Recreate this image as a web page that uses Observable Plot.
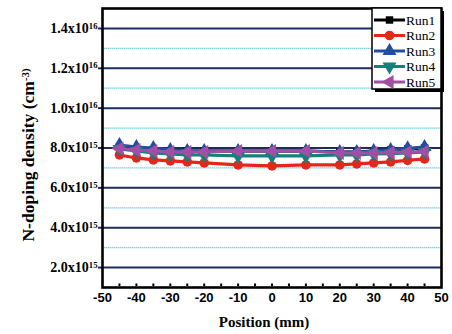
<!DOCTYPE html>
<html><head><meta charset="utf-8">
<script src="https://cdn.jsdelivr.net/npm/d3@7"></script>
<script src="https://cdn.jsdelivr.net/npm/@observablehq/plot@0.6"></script>
<style>body{margin:0;background:#fff;} #chart{position:relative;width:452px;height:334px;}</style>
</head><body><div id="chart"></div>
<script>
const positions = [-45,-40,-35,-30,-25,-20,-10,0,10,20,25,30,35,40,45];
const run1 = [8.05,7.95,7.9,7.85,7.85,7.85,7.85,7.85,7.85,7.8,7.8,7.85,7.9,7.95,8.0].map(v=>v*1e15);
const run2 = [7.65,7.5,7.4,7.35,7.3,7.25,7.15,7.1,7.15,7.15,7.2,7.25,7.3,7.38,7.45].map(v=>v*1e15);
const run3 = [8.15,8.05,8.0,7.9,7.85,7.85,7.85,7.85,7.85,7.8,7.8,7.85,7.9,7.98,8.05].map(v=>v*1e15);
const run4 = [7.95,7.85,7.75,7.7,7.65,7.65,7.6,7.6,7.6,7.65,7.65,7.7,7.72,7.75,7.8].map(v=>v*1e15);
const run5 = [7.98,7.9,7.85,7.8,7.8,7.8,7.85,7.85,7.85,7.75,7.75,7.75,7.78,7.8,7.82].map(v=>v*1e15);
const seriesNames = ["Run1","Run2","Run3","Run4","Run5"];
const seriesValues = [run1, run2, run3, run4, run5];
const seriesColors = ["#000000","#e5261c","#1f4ea3","#13807c","#a04fa4"];
const xTicks = [-50,-40,-30,-20,-10,0,10,20,30,40,50];
const xMinorTicks = [-45,-40,-35,-30,-25,-20,-15,-10,-5,0,5,10,15,20,25,30,35,40,45];
const yTicks = [2e15,4e15,6e15,8e15,1e16,1.2e16,1.4e16];
const yTickLabels = ["2.0x10|15","4.0x10|15","6.0x10|15","8.0x10|15","1.0x10|16","1.2x10|16","1.4x10|16"];
const yMinorGrid = [3e15,5e15,7e15,9e15,1.1e16,1.3e16];
const xTitle = "Position (mm)";
const yTitle = "N-doping density (cm|-3)";

const s3 = Math.sqrt(3);
function tri(dir){
  return {draw(ctx, size){
    const h = Math.sqrt(size/(3*s3));
    if(dir==="up"){ctx.moveTo(0,-2*h);ctx.lineTo(-s3*h,h);ctx.lineTo(s3*h,h);}
    else if(dir==="down"){ctx.moveTo(0,2*h);ctx.lineTo(-s3*h,-h);ctx.lineTo(s3*h,-h);}
    else {ctx.moveTo(-2*h,0);ctx.lineTo(h,-s3*h);ctx.lineTo(h,s3*h);}
    ctx.closePath();
  }};
}
const seriesSymbols = [d3.symbolSquare, d3.symbolCircle, tri("up"), tri("down"), tri("left")];
const seriesR = [4.2,4.8,5.2,5.2,5.2];

const rows = [];
seriesNames.forEach((n,i)=>positions.forEach((p,j)=>rows.push({run:n, x:p, y:seriesValues[i][j]})));

const marks = [
  Plot.ruleY(yMinorGrid, {stroke:"#7fcfdf", strokeWidth:1.3, strokeDasharray:"1.5,0.5"}),
  Plot.ruleY(yTicks, {stroke:"#1c2c5e", strokeWidth:2}),
  Plot.axisY({ticks:yTicks, tickSize:4, tickPadding:1, stroke:"#1c2c5e", strokeWidth:2,
    tickFormat:(d,i)=>yTickLabels[i], label:null, fontSize:14, fontWeight:"bold", fontFamily:"Liberation Serif"}),
  Plot.axisX({ticks:xMinorTicks, tickSize:2.5, dy:-3.5, tickFormat:()=>"", label:null, strokeWidth:2}),
  Plot.axisX({ticks:xTicks, tickSize:0, tickPadding:5, tickFormat:d=>String(d), label:null,
    fontSize:13, fontWeight:"bold", fontFamily:"Liberation Sans"}),
];
seriesNames.forEach((n,i)=>{
  const data = rows.filter(r=>r.run===n);
  marks.push(Plot.line(data,{x:"x",y:"y",stroke:seriesColors[i],strokeWidth:3.2}));
  marks.push(Plot.dot(data,{x:"x",y:"y",fill:seriesColors[i],stroke:"none",symbol:seriesSymbols[i],r:seriesR[i]}));
});
marks.push(Plot.frame({stroke:"#000",strokeWidth:2.6}));

const chart = Plot.plot({
  width:452, height:334,
  marginLeft:102, marginRight:11, marginTop:8, marginBottom:47,
  x:{domain:[-50,50]},
  y:{domain:[1e15,1.5e16]},
  style:{fontFamily:"Liberation Serif", background:"#fff", overflow:"visible"},
  marks
});
document.getElementById("chart").appendChild(chart);
const svg = d3.select(chart);

function supText(sel){
  sel.each(function(){
    const t = d3.select(this);
    const s = t.text();
    if(!s.includes("|")) return;
    const [a,b] = s.split("|");
    t.text(null);
    t.append("tspan").text(a);
    t.append("tspan").attr("dy","-0.5em").attr("font-size","0.62em").text(b);
  });
}
supText(svg.selectAll("text"));

// titles
svg.append("text").attr("x",264).attr("y",327).attr("text-anchor","middle")
  .attr("font-family","Liberation Serif").attr("font-weight","bold").attr("font-size",15).text(xTitle);
const yt = svg.append("text").attr("transform","translate(34,155) rotate(-90)").attr("text-anchor","middle")
  .attr("font-family","Liberation Serif").attr("font-weight","bold").attr("font-size",17.5).text(yTitle);
supText(yt);

// legend
const lg = svg.append("g").attr("text-anchor","start");
lg.append("rect").attr("x",375).attr("y",11).attr("width",69).attr("height",81).attr("fill","#000");
lg.append("rect").attr("x",372).attr("y",8).attr("width",69).attr("height",81).attr("fill","#fff").attr("stroke","#000").attr("stroke-width",1.5);
seriesNames.forEach((n,i)=>{
  const y = 20 + i*15.5;
  lg.append("line").attr("x1",374).attr("x2",405).attr("y1",y).attr("y2",y).attr("stroke",seriesColors[i]).attr("stroke-width",3);
  lg.append("path").attr("transform",`translate(389.5,${y})`).attr("fill",seriesColors[i])
    .attr("d", d3.symbol(seriesSymbols[i], Math.PI*seriesR[i]*seriesR[i])());
  lg.append("text").attr("x",406).attr("y",y+4.5).attr("text-anchor","start").attr("font-family","Liberation Serif").attr("font-size",13.5).text(n);
});
</script>
</body></html>
